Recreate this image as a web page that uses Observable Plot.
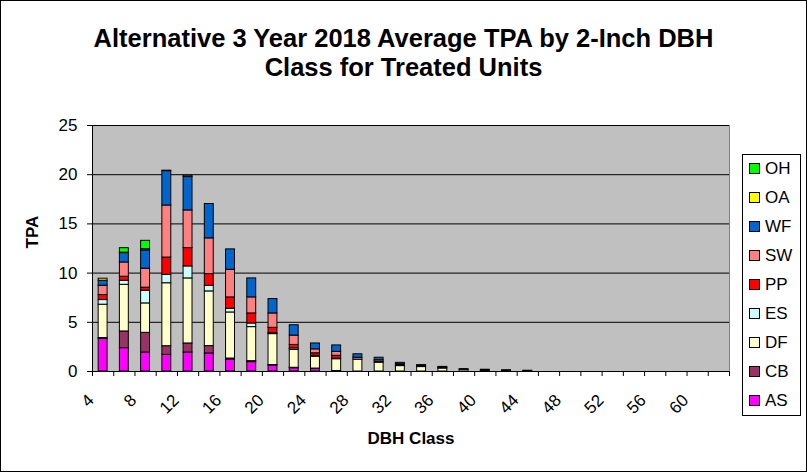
<!DOCTYPE html>
<html><head><meta charset="utf-8">
<script src="https://cdn.jsdelivr.net/npm/d3@7"></script>
<script src="https://cdn.jsdelivr.net/npm/@observablehq/plot@0.6"></script>
<style>
body{margin:0;background:#fff;font-family:"Liberation Sans",Arial,sans-serif;}
#chart{position:relative;width:807px;height:472px;overflow:hidden;background:#fff;}
#border{position:absolute;left:0;top:0;width:807px;height:472px;box-sizing:border-box;border:1px solid #000;pointer-events:none;}
#title{height:100px;box-sizing:border-box;padding-top:24px;text-align:center;font-weight:bold;font-size:25.5px;line-height:29px;color:#000;}
#legend{position:absolute;left:742px;top:154px;width:59px;height:262px;box-sizing:border-box;border:1px solid #000;background:#fff;}
.item{position:absolute;left:6px;height:20px;font-size:17px;line-height:20px;}
.sw{display:inline-block;width:9px;height:9px;border:1px solid #000;vertical-align:middle;margin-right:5px;position:relative;top:-1px;}
svg{display:block;}
</style></head>
<body>
<div id="chart">
  <div id="title">Alternative 3 Year 2018 Average TPA by 2-Inch DBH<br>Class for Treated Units</div>
  <div id="plot"></div>
  <div id="legend"></div>
  <div id="border"></div>
</div>
<script>
const dbh = [4,6,8,10,12,14,16,18,20,22,24,26,28,30,32,34,36,38,40,42,44,46,48,50,52,54,56,58,60,62];
const xLabels = [4,8,12,16,20,24,28,32,36,40,44,48,52,56,60];
const yTicks = [0,5,10,15,20,25];
const species = ["AS","CB","DF","ES","PP","SW","WF","OA","OH"];
const colors  = ["#FF00FF","#993366","#FFFFCC","#CCFFFF","#FF0000","#FF8080","#0066CC","#FFFF00","#00FF00"];

const AS = [3.30,2.37,1.93,1.69,1.93,1.83,1.22,0.95,0.61,0.33,0.25,0.05,0,0,0,0,0,0,0,0,0,0,0,0,0,0,0,0,0,0];
const CB = [0.10,1.70,2.00,0.88,0.92,0.75,0.10,0.10,0.05,0.05,0.05,0,0,0,0,0,0,0,0,0,0,0,0,0,0,0,0,0,0,0];
const DF = [3.39,4.74,2.99,6.40,6.61,5.56,4.68,3.46,3.14,1.82,1.20,1.20,1.20,0.90,0.55,0.45,0.30,0.17,0.08,0.05,0.03,0,0,0,0,0,0,0,0,0];
const ES = [0.47,0.41,1.29,0.85,1.22,0.57,0.37,0.37,0.10,0.15,0.10,0.05,0,0,0,0,0,0,0,0,0,0,0,0,0,0,0,0,0,0];
const PP = [0.51,0.41,0.31,1.76,1.86,1.19,1.16,1.02,0.54,0.35,0.25,0.30,0,0.10,0.08,0.05,0,0,0,0,0,0,0,0,0,0,0,0,0,0];
const SW = [0.95,1.45,1.93,5.29,3.83,3.63,2.81,1.63,1.46,0.95,0.40,0.40,0.20,0.15,0.10,0.05,0.07,0,0,0,0,0,0,0,0,0,0,0,0,0];
const WF = [0.51,0.95,1.86,3.49,3.39,3.49,2.07,1.93,1.46,1.05,0.60,0.65,0.35,0.25,0.15,0.10,0.10,0.07,0.10,0.08,0.05,0,0,0,0,0,0,0,0,0];
const OA = [0.20,0.05,0.12,0.05,0.13,0,0,0,0,0,0,0,0,0,0,0,0,0,0,0,0,0,0,0,0,0,0,0,0,0];
const OH = [0,0.45,0.85,0,0,0,0,0,0,0,0,0,0,0,0,0,0,0,0,0,0,0,0,0,0,0,0,0,0,0];

const series = {AS, CB, DF, ES, PP, SW, WF, OA, OH};
const rows = [];
dbh.forEach((d, i) => species.forEach(s => { if (series[s][i] > 0) rows.push({dbh: d, sp: s, tpa: series[s][i]}); }));
const bounds = [dbh[0] - 1, ...dbh.map(d => d + 1)];
const half = 0.42;

const plot = Plot.plot({
  width: 807, height: 372,
  marginLeft: 92, marginRight: 78, marginTop: 25, marginBottom: 101,
  style: {fontFamily: '"Liberation Sans", Arial, sans-serif', fontSize: "17px", color: "#000", background: "transparent", overflow: "visible"},
  x: {type: "linear", domain: [bounds[0], bounds[bounds.length - 1]], axis: null},
  y: {domain: [0, 25], axis: null},
  color: {domain: species, range: colors},
  marks: [
    Plot.frame({fill: "#C0C0C0", stroke: "#808080"}),
    Plot.gridY([5, 10, 15, 20, 25], {stroke: "#000", strokeOpacity: 1}),
    Plot.rectY(rows, Plot.stackY({
      x1: d => d.dbh - half, x2: d => d.dbh + half, y: "tpa", fill: "sp", order: species,
      stroke: "#000", strokeWidth: 1
    })),
    Plot.ruleX([bounds[0]], {stroke: "#000"}),
    Plot.ruleY([0], {stroke: "#000"}),
    Plot.axisY({ticks: yTicks, tickSize: 5, tickPadding: 10, fontSize: 17, stroke: "#000", label: null}),
    Plot.axisX({ticks: bounds, tickFormat: () => "", tickSize: 5, stroke: "#000", label: null}),
    Plot.axisX({ticks: xLabels, tickSize: 0, tickRotate: -45, tickPadding: 26, dx: -12, fontSize: 17, label: null}),
    Plot.text(["DBH Class"], {frameAnchor: "bottom", dy: 72, fontWeight: "bold", fontSize: 17}),
    Plot.text(["TPA"], {frameAnchor: "left", dx: -60, rotate: -90, fontWeight: "bold", fontSize: 17})
  ]
});
document.getElementById("plot").appendChild(plot);

const leg = document.getElementById("legend");
[...species].reverse().forEach((s, k) => {
  const el = document.createElement("div");
  el.className = "item";
  el.style.top = (4 + k * 29) + "px";
  const sw = document.createElement("span");
  sw.className = "sw";
  sw.style.background = colors[species.indexOf(s)];
  el.appendChild(sw);
  el.appendChild(document.createTextNode(s));
  leg.appendChild(el);
});
</script>
</body></html>
